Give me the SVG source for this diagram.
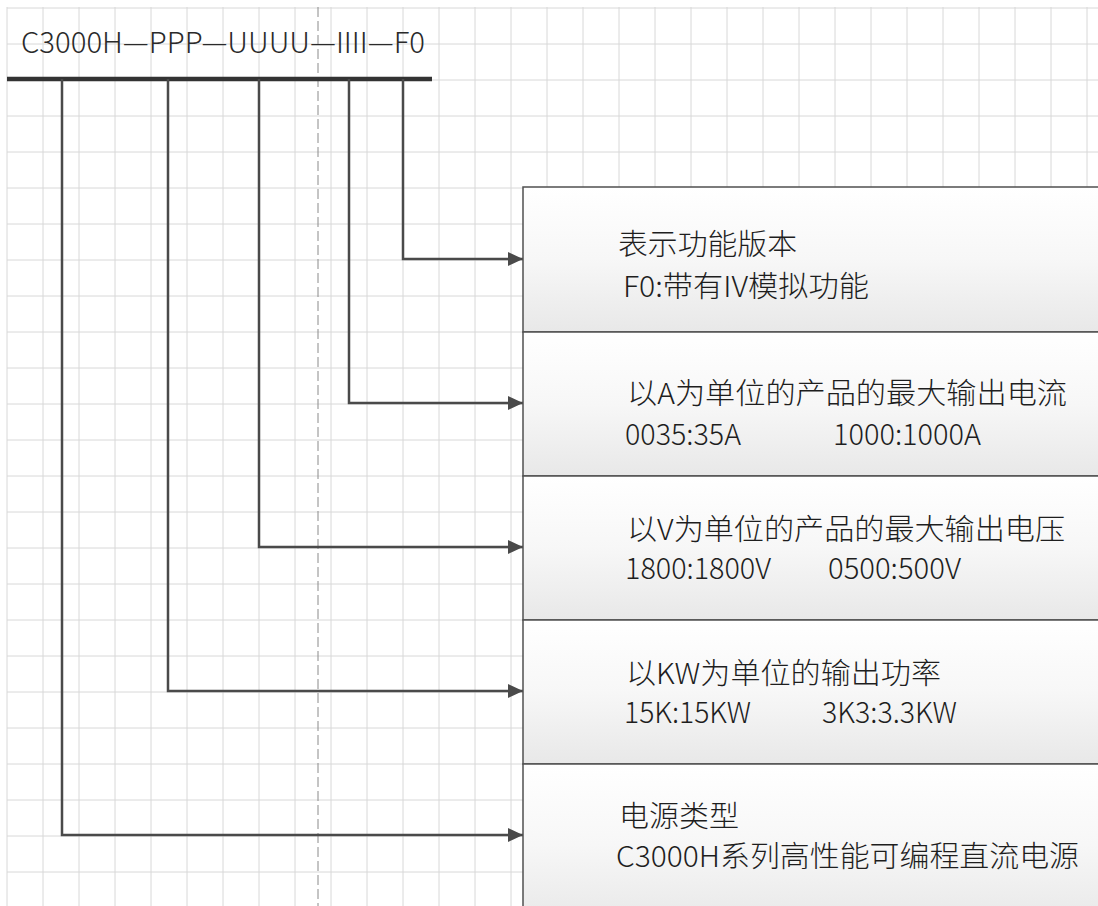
<svg xmlns="http://www.w3.org/2000/svg" width="1098" height="906" viewBox="0 0 1098 906">
<style>
.grid line{stroke:#d8d8d8;stroke-width:1}
.conn{fill:none;stroke:#4a4a4a;stroke-width:2.5;marker-end:url(#arr)}
.box{fill:url(#g);stroke:#505050;stroke-width:1.5}
.t{font-family:"Noto Sans CJK SC","Noto Sans",sans-serif;font-size:29px;font-weight:300;fill:#1e1e1e}
.h{font-family:"Noto Sans CJK SC","Noto Sans",sans-serif;font-size:29px;font-weight:300;fill:#2a2a2a}
</style>
<defs>
<linearGradient id="g" x1="0" y1="0" x2="0" y2="1">
<stop offset="0" stop-color="#ffffff"/>
<stop offset="0.5" stop-color="#f7f7f7"/>
<stop offset="1" stop-color="#e8e8e8"/>
</linearGradient>
<marker id="arr" markerUnits="userSpaceOnUse" markerWidth="16" markerHeight="14" refX="15" refY="7" orient="auto">
<path d="M0,0 L15,7 L0,14 z" fill="#4a4a4a"/>
</marker>
</defs>
<rect width="1098" height="906" fill="#ffffff"/>
<g class="grid">
<line x1="7" y1="7" x2="7" y2="906"/><line x1="43" y1="7" x2="43" y2="906"/><line x1="79" y1="7" x2="79" y2="906"/><line x1="115" y1="7" x2="115" y2="906"/><line x1="151" y1="7" x2="151" y2="906"/><line x1="187" y1="7" x2="187" y2="906"/><line x1="223" y1="7" x2="223" y2="906"/><line x1="259" y1="7" x2="259" y2="906"/><line x1="295" y1="7" x2="295" y2="906"/><line x1="331" y1="7" x2="331" y2="906"/><line x1="367" y1="7" x2="367" y2="906"/><line x1="403" y1="7" x2="403" y2="906"/><line x1="439" y1="7" x2="439" y2="906"/><line x1="475" y1="7" x2="475" y2="906"/><line x1="511" y1="7" x2="511" y2="906"/><line x1="547" y1="7" x2="547" y2="906"/><line x1="583" y1="7" x2="583" y2="906"/><line x1="619" y1="7" x2="619" y2="906"/><line x1="655" y1="7" x2="655" y2="906"/><line x1="691" y1="7" x2="691" y2="906"/><line x1="727" y1="7" x2="727" y2="906"/><line x1="763" y1="7" x2="763" y2="906"/><line x1="799" y1="7" x2="799" y2="906"/><line x1="835" y1="7" x2="835" y2="906"/><line x1="871" y1="7" x2="871" y2="906"/><line x1="907" y1="7" x2="907" y2="906"/><line x1="943" y1="7" x2="943" y2="906"/><line x1="979" y1="7" x2="979" y2="906"/><line x1="1015" y1="7" x2="1015" y2="906"/><line x1="1051" y1="7" x2="1051" y2="906"/><line x1="1087" y1="7" x2="1087" y2="906"/>
<line x1="7" y1="8" x2="1098" y2="8"/><line x1="7" y1="44" x2="1098" y2="44"/><line x1="7" y1="80" x2="1098" y2="80"/><line x1="7" y1="116" x2="1098" y2="116"/><line x1="7" y1="152" x2="1098" y2="152"/><line x1="7" y1="188" x2="1098" y2="188"/><line x1="7" y1="224" x2="1098" y2="224"/><line x1="7" y1="260" x2="1098" y2="260"/><line x1="7" y1="296" x2="1098" y2="296"/><line x1="7" y1="332" x2="1098" y2="332"/><line x1="7" y1="368" x2="1098" y2="368"/><line x1="7" y1="404" x2="1098" y2="404"/><line x1="7" y1="440" x2="1098" y2="440"/><line x1="7" y1="476" x2="1098" y2="476"/><line x1="7" y1="512" x2="1098" y2="512"/><line x1="7" y1="548" x2="1098" y2="548"/><line x1="7" y1="584" x2="1098" y2="584"/><line x1="7" y1="620" x2="1098" y2="620"/><line x1="7" y1="656" x2="1098" y2="656"/><line x1="7" y1="692" x2="1098" y2="692"/><line x1="7" y1="728" x2="1098" y2="728"/><line x1="7" y1="764" x2="1098" y2="764"/><line x1="7" y1="800" x2="1098" y2="800"/><line x1="7" y1="836" x2="1098" y2="836"/><line x1="7" y1="872" x2="1098" y2="872"/>
</g>
<line x1="318" y1="7" x2="318" y2="906" stroke="#8a8a8a" stroke-width="1" stroke-dasharray="10 4"/>
<g id="header">
<text class="h" x="21" y="53" textLength="404" lengthAdjust="spacingAndGlyphs">C3000H—PPP—UUUU—IIII—F0</text>
<line x1="7" y1="79" x2="432" y2="79" stroke="#333" stroke-width="4.5"/>
</g>
<g id="connectors">
<path class="conn" d="M403 79 V259 H523"/>
<path class="conn" d="M349 79 V403 H523"/>
<path class="conn" d="M259 79 V547 H523"/>
<path class="conn" d="M168 79 V691 H523"/>
<path class="conn" d="M62 79 V835 H523"/>
</g>
<g id="box-f0">
<rect class="box" x="523" y="187" width="590" height="145"/>
<text class="t" x="618" y="255" textLength="179" lengthAdjust="spacingAndGlyphs">表示功能版本</text>
<text class="t" x="623" y="297" textLength="246" lengthAdjust="spacingAndGlyphs">F0:带有IV模拟功能</text>
</g>
<g id="box-current">
<rect class="box" x="523" y="332" width="590" height="144"/>
<text class="t" x="627" y="404" textLength="440" lengthAdjust="spacingAndGlyphs">以A为单位的产品的最大输出电流</text>
<text class="t" x="625" y="445" textLength="116" lengthAdjust="spacingAndGlyphs">0035:35A</text>
<text class="t" x="833" y="445" textLength="148" lengthAdjust="spacingAndGlyphs">1000:1000A</text>
</g>
<g id="box-voltage">
<rect class="box" x="523" y="476" width="590" height="144"/>
<text class="t" x="627" y="540" textLength="438" lengthAdjust="spacingAndGlyphs">以V为单位的产品的最大输出电压</text>
<text class="t" x="625" y="579" textLength="146" lengthAdjust="spacingAndGlyphs">1800:1800V</text>
<text class="t" x="828" y="579" textLength="133" lengthAdjust="spacingAndGlyphs">0500:500V</text>
</g>
<g id="box-power">
<rect class="box" x="523" y="620" width="590" height="144"/>
<text class="t" x="626" y="684" textLength="315" lengthAdjust="spacingAndGlyphs">以KW为单位的输出功率</text>
<text class="t" x="624" y="723" textLength="127" lengthAdjust="spacingAndGlyphs">15K:15KW</text>
<text class="t" x="822" y="723" textLength="135" lengthAdjust="spacingAndGlyphs">3K3:3.3KW</text>
</g>
<g id="box-type">
<rect class="box" x="523" y="764" width="590" height="160"/>
<text class="t" x="619" y="827" textLength="120" lengthAdjust="spacingAndGlyphs">电源类型</text>
<text class="t" x="616" y="867" textLength="463" lengthAdjust="spacingAndGlyphs">C3000H系列高性能可编程直流电源</text>
</g>
</svg>
